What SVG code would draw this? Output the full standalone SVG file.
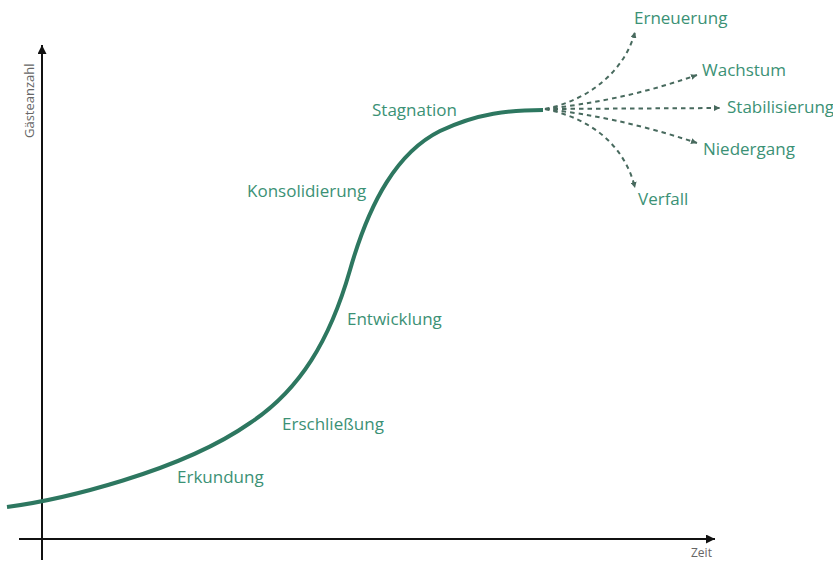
<svg xmlns="http://www.w3.org/2000/svg" width="833" height="564" viewBox="0 0 833 564">
  <style>
    .axis { stroke: #111; stroke-width: 2; fill: none; }
    .curve { stroke: #2d7760; stroke-width: 4; fill: none; stroke-linecap: butt; }
    .branch { stroke: #486a5e; stroke-width: 2; fill: none; stroke-dasharray: 4.5 4; }
    .phase { font-family: "Open Sans", "Noto Sans", sans-serif; font-size: 17px; fill: #3b9175; }
    .axis-label { font-family: "Open Sans", "Noto Sans", sans-serif; font-size: 13px; fill: #666; }
  </style>
  <defs>
    <marker id="axis-head" viewBox="0 0 10 10" refX="10" refY="5" markerWidth="9" markerHeight="9" markerUnits="userSpaceOnUse" orient="auto">
      <path d="M0,0 L10,5 L0,10 Z" fill="#111"/>
    </marker>
    <marker id="branch-head" viewBox="0 0 10 10" refX="10" refY="5" markerWidth="6" markerHeight="6" markerUnits="userSpaceOnUse" orient="auto">
      <path d="M0,0 L10,5 L0,10 Z" fill="#486a5e"/>
    </marker>
  </defs>

  <!-- axes -->
  <g id="axes">
    <line class="axis" x1="42" y1="560" x2="42" y2="45" marker-end="url(#axis-head)"/>
    <line class="axis" x1="19" y1="539" x2="715" y2="539" marker-end="url(#axis-head)"/>
    <text class="axis-label" transform="translate(34,138) rotate(-90)">Gästeanzahl</text>
    <text class="axis-label" x="691" y="557" style="font-size:12px">Zeit</text>
  </g>

  <!-- connectors: life-cycle curve and possible outcomes -->
  <g id="connectors">
    <path id="lifecycle" class="curve" d="M7,507 C60,500 180,472 250,423 C300,390 330,340 350,270 C370,200 398,152 440,131 C478,113 510,110 543,110"/>
    <path class="branch" d="M545,109 C590,100 625,70 635,32" marker-end="url(#branch-head)"/>
    <path class="branch" d="M545,109 C590,104 640,95 697,75" marker-end="url(#branch-head)"/>
    <path class="branch" d="M545,109 L720,108" marker-end="url(#branch-head)"/>
    <path class="branch" d="M545,109 C590,114 640,124 697,143" marker-end="url(#branch-head)"/>
    <path class="branch" d="M545,109 C590,118 625,145 635,188" marker-end="url(#branch-head)"/>
  </g>

  <!-- phase labels -->
  <g id="erkundung"><text class="phase" x="177" y="483">Erkundung</text></g>
  <g id="erschliessung"><text class="phase" x="282" y="430">Erschließung</text></g>
  <g id="entwicklung"><text class="phase" x="347" y="325">Entwicklung</text></g>
  <g id="konsolidierung"><text class="phase" x="247" y="197">Konsolidierung</text></g>
  <g id="stagnation"><text class="phase" x="372" y="116">Stagnation</text></g>

  <!-- outcome labels -->
  <g id="erneuerung"><text class="phase" x="634" y="24">Erneuerung</text></g>
  <g id="wachstum"><text class="phase" x="702" y="76">Wachstum</text></g>
  <g id="stabilisierung"><text class="phase" x="727" y="113">Stabilisierung</text></g>
  <g id="niedergang"><text class="phase" x="703" y="155">Niedergang</text></g>
  <g id="verfall"><text class="phase" x="638" y="205">Verfall</text></g>
</svg>
